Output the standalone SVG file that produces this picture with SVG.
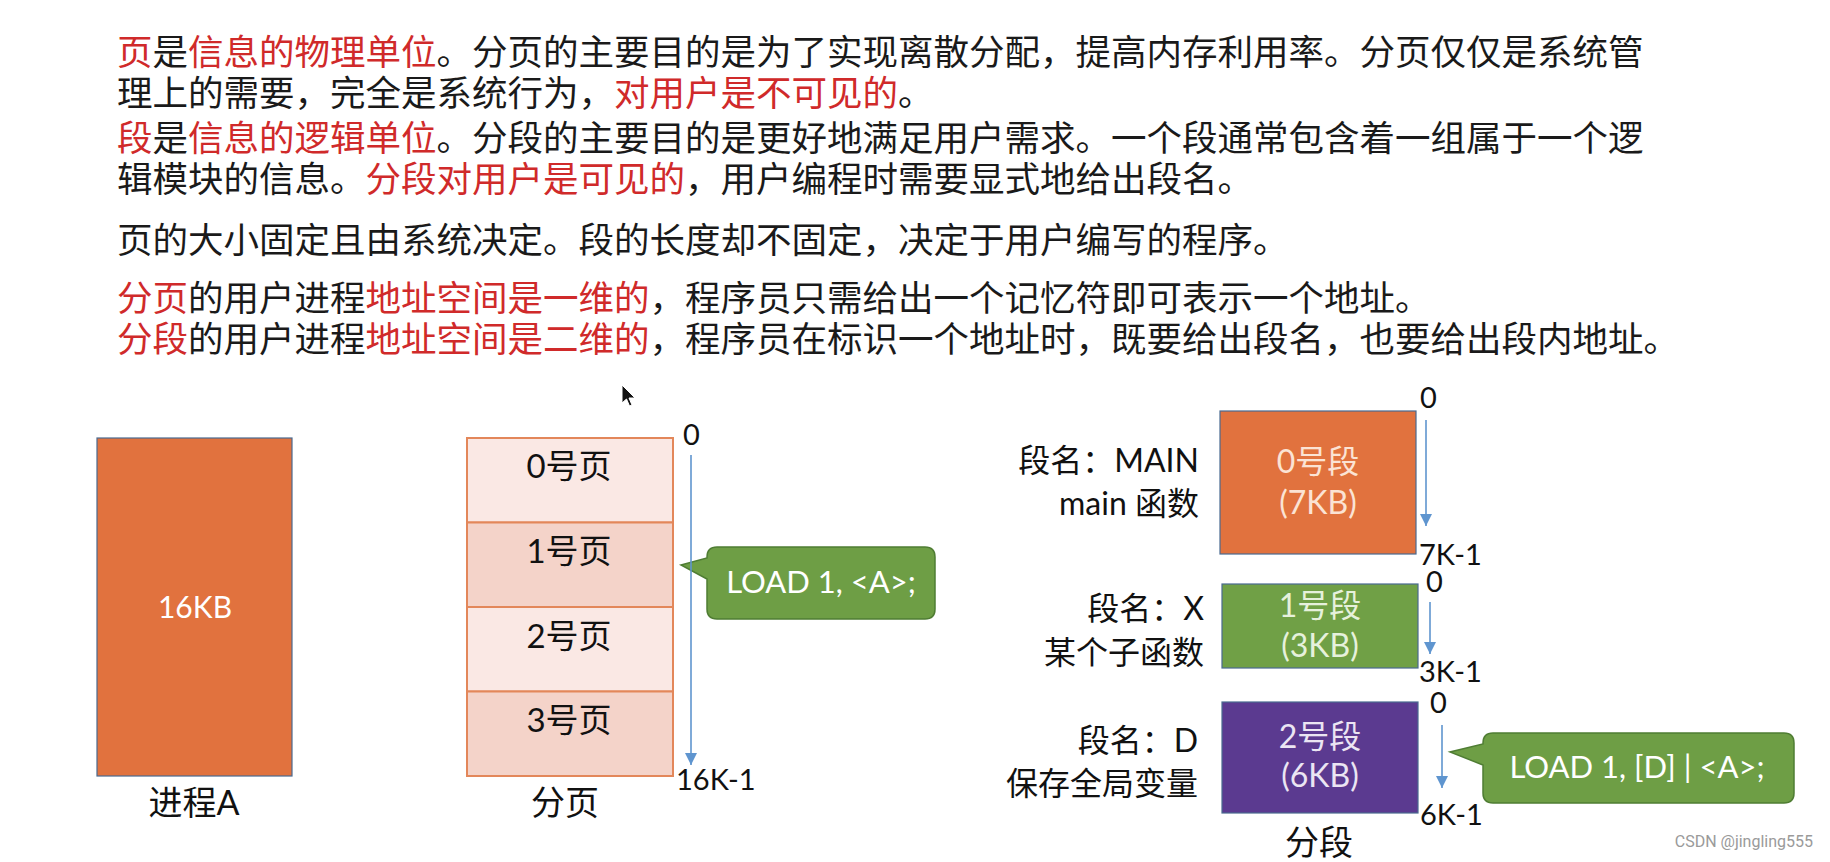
<svg xmlns="http://www.w3.org/2000/svg" width="1830" height="862" viewBox="0 0 1830 862">
<defs>
<style>
.cn{font-family:"Noto Sans CJK SC","Noto Sans",sans-serif;font-size:35.5px;fill:#1a1a1a}
.r{fill:#d02a2a}
.lbl{font-family:Lato,"Noto Sans CJK SC",sans-serif;fill:#111}
.wt{font-family:Lato,"Noto Sans CJK SC",sans-serif;fill:#ffffff}
.num{font-family:Lato,"Noto Sans",sans-serif;font-size:29px;fill:#111}
.blk{stroke:#4a6a90;stroke-width:1.2}
.pg{stroke:#e3875a;stroke-width:2}
.arr{stroke:#5f95cf;stroke-width:1.6;fill:none}
.call{fill:#6e9e45;stroke:#4f7d33;stroke-width:1.5}
</style>
<marker id="ah" markerUnits="userSpaceOnUse" markerWidth="12" markerHeight="12" refX="12" refY="6" orient="auto">
<path d="M0,0 L12,6 L0,12 z" fill="#5f95cf"/>
</marker>
</defs>
<rect width="1830" height="862" fill="#ffffff"/>

<g id="intro" class="cn">
<text x="117" y="65"><tspan class="r">页</tspan>是<tspan class="r">信息的物理单位</tspan>。分页的主要目的是为了实现离散分配，提高内存利用率。分页仅仅是系统管</text>
<text x="117" y="106">理上的需要，完全是系统行为，<tspan class="r">对用户是不可见的</tspan>。</text>
<text x="117" y="151"><tspan class="r">段</tspan>是<tspan class="r">信息的逻辑单位</tspan>。分段的主要目的是更好地满足用户需求。一个段通常包含着一组属于一个逻</text>
<text x="117" y="192">辑模块的信息。<tspan class="r">分段对用户是可见的</tspan>，用户编程时需要显式地给出段名。</text>
<text x="117" y="253">页的大小固定且由系统决定。段的长度却不固定，决定于用户编写的程序。</text>
<text x="117" y="311"><tspan class="r">分页</tspan>的用户进程<tspan class="r">地址空间是一维的</tspan>，程序员只需给出一个记忆符即可表示一个地址。</text>
<text x="117" y="352"><tspan class="r">分段</tspan>的用户进程<tspan class="r">地址空间是二维的</tspan>，程序员在标识一个地址时，既要给出段名，也要给出段内地址。</text>
</g>

<g id="cursor">
<path d="M622,385 L622,403 L626.5,399 L629.5,406 L632,405 L629,398 L635,398 Z" fill="#111" stroke="#fff" stroke-width="1"/>
</g>

<g id="processA">
<rect x="97" y="438" width="195" height="338" fill="#e1723e" class="blk"/>
<text x="195" y="618" class="wt" font-size="30" text-anchor="middle">16KB</text>
<text x="194" y="815" class="lbl" font-size="34" text-anchor="middle">进程A</text>
</g>

<g id="paging">
<rect x="467" y="438" width="206" height="84.5" fill="#fae8e4" class="pg"/>
<rect x="467" y="522.5" width="206" height="84.5" fill="#f4d3c9" class="pg"/>
<rect x="467" y="607" width="206" height="84.5" fill="#fae8e4" class="pg"/>
<rect x="467" y="691.5" width="206" height="84.5" fill="#f4d3c9" class="pg"/>
<g class="lbl" font-size="33" text-anchor="middle">
<text x="569" y="478">0号页</text>
<text x="569" y="563">1号页</text>
<text x="569" y="648">2号页</text>
<text x="569" y="732">3号页</text>
</g>
<text x="683" y="445" class="num">0</text>
<text x="676" y="790" class="num">16K-1</text>
<text x="565" y="815" class="lbl" font-size="34" text-anchor="middle">分页</text>
</g>

<g id="callout1">
<path class="call" d="M717,547 H925 Q935,547 935,557 V609 Q935,619 925,619 H717 Q707,619 707,609 V579 L681,565 L707,558 V557 Q707,547 717,547 Z"/>
<text x="821" y="593" class="wt" font-size="31" text-anchor="middle">LOAD 1, &lt;A&gt;;</text>
</g>

<g id="seg0">
<rect x="1220" y="411" width="196" height="143" fill="#e1723e" class="blk"/>
<text x="1318" y="473" class="wt" font-size="32" text-anchor="middle" style="fill:#fbe3d4">0号段</text>
<text x="1318" y="514" class="wt" font-size="32" text-anchor="middle" style="fill:#fbe3d4">(7KB)</text>
<text x="1420" y="408" class="num">0</text>
<text x="1419" y="565" class="num">7K-1</text>
<text x="1199" y="472" class="lbl" font-size="32" text-anchor="end">段名：MAIN</text>
<text x="1199" y="515" class="lbl" font-size="32" text-anchor="end">main 函数</text>
</g>

<g id="seg1">
<rect x="1222" y="584" width="196" height="84" fill="#70a046" class="blk"/>
<text x="1320" y="617" class="wt" font-size="32" text-anchor="middle" style="fill:#e6f1dc">1号段</text>
<text x="1320" y="657" class="wt" font-size="32" text-anchor="middle" style="fill:#e6f1dc">(3KB)</text>
<text x="1426" y="592" class="num">0</text>
<text x="1419" y="682" class="num">3K-1</text>
<text x="1204" y="620" class="lbl" font-size="32" text-anchor="end">段名：X</text>
<text x="1204" y="664" class="lbl" font-size="32" text-anchor="end">某个子函数</text>
</g>

<g id="seg2">
<rect x="1222" y="702" width="196" height="111" fill="#5b3a90" class="blk"/>
<text x="1320" y="748" class="wt" font-size="32" text-anchor="middle" style="fill:#ebe5f3">2号段</text>
<text x="1320" y="787" class="wt" font-size="32" text-anchor="middle" style="fill:#ebe5f3">(6KB)</text>
<text x="1430" y="713" class="num">0</text>
<text x="1420" y="825" class="num">6K-1</text>
<text x="1198" y="752" class="lbl" font-size="32" text-anchor="end">段名：D</text>
<text x="1198" y="795" class="lbl" font-size="32" text-anchor="end">保存全局变量</text>
<text x="1319" y="855" class="lbl" font-size="34" text-anchor="middle">分段</text>
</g>

<g id="callout2">
<path class="call" d="M1493,733 H1784 Q1794,733 1794,743 V793 Q1794,803 1784,803 H1493 Q1483,803 1483,793 V765 L1450,752 L1483,744 V743 Q1483,733 1493,733 Z"/>
<text x="1637" y="778" class="wt" font-size="31" text-anchor="middle">LOAD 1, [D] | &lt;A&gt;;</text>
</g>

<g id="connectors">
<line class="arr" x1="691" y1="455" x2="691" y2="765" marker-end="url(#ah)"/>
<line class="arr" x1="1426" y1="420" x2="1426" y2="526" marker-end="url(#ah)"/>
<line class="arr" x1="1430" y1="602" x2="1430" y2="654" marker-end="url(#ah)"/>
<line class="arr" x1="1442" y1="725" x2="1442" y2="788" marker-end="url(#ah)"/>
</g>

<text x="1813" y="847" font-family="Roboto,'Liberation Sans',sans-serif" font-size="16" fill="#9a9a9a" text-anchor="end">CSDN @jingling555</text>
</svg>
